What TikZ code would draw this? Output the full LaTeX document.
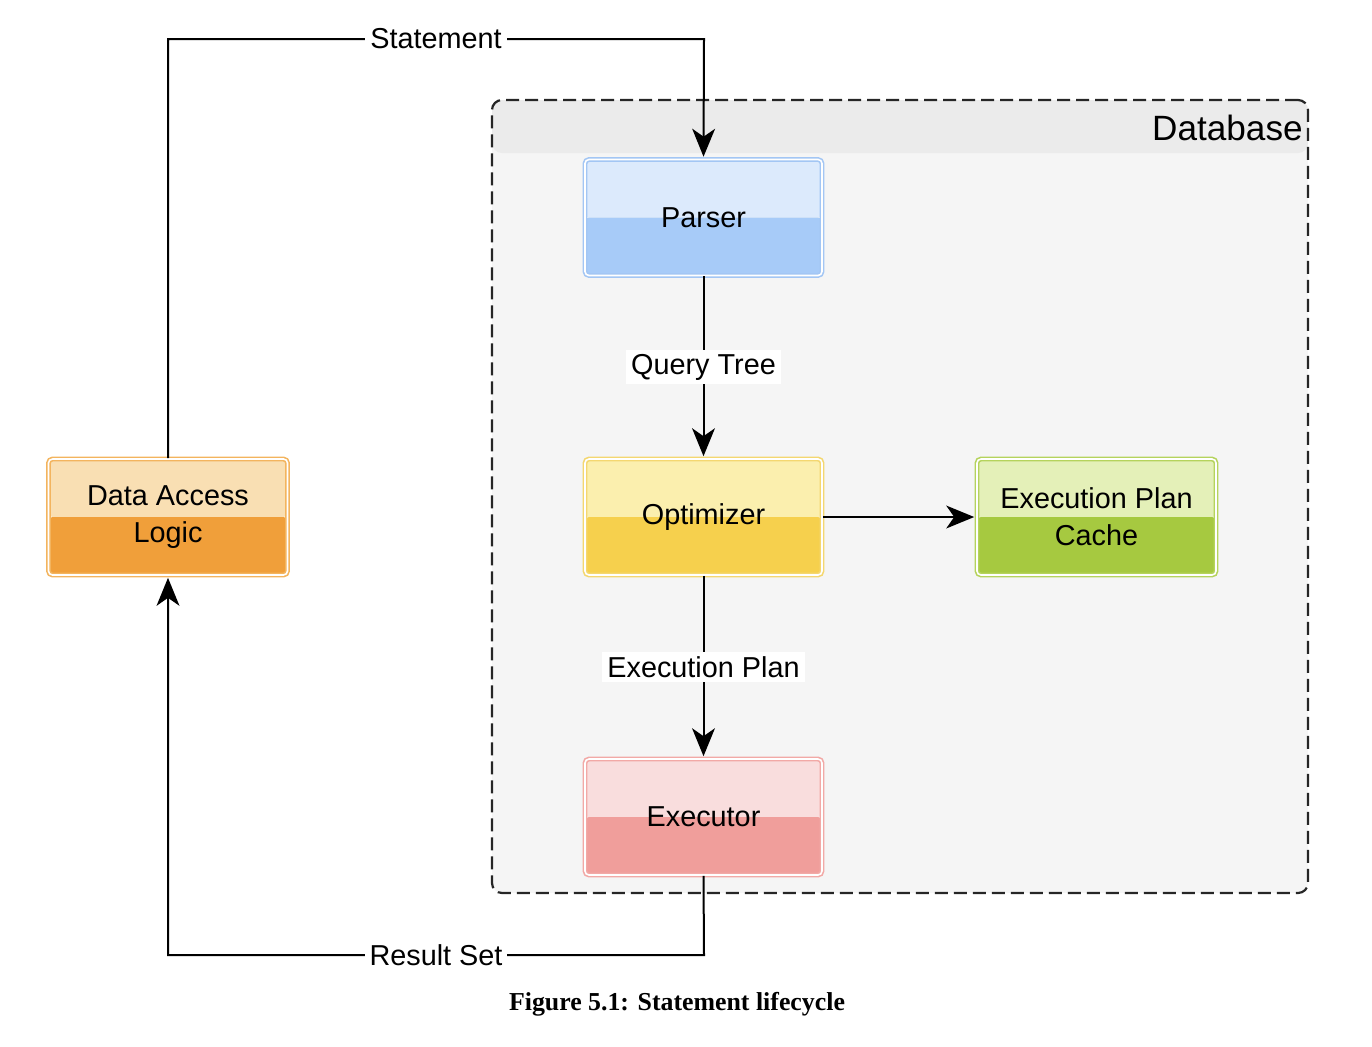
\documentclass[tikz,border=0pt]{standalone}
\usepackage{fontspec}
\setmainfont{Liberation Sans}
\newfontfamily\capfont{Liberation Serif}
\usetikzlibrary{arrows.meta}
\newdimen\pxu \pxu=0.02cm
\definecolor{dbbody}{HTML}{F5F5F5}
\definecolor{dbhead}{HTML}{EBEBEB}
\definecolor{blueTop}{HTML}{DCEAFC}
\definecolor{blueBot}{HTML}{A7CBF8}
\definecolor{blueLine}{HTML}{A3C6F4}
\definecolor{yelTop}{HTML}{FBEFAE}
\definecolor{yelBot}{HTML}{F6D04D}
\definecolor{yelLine}{HTML}{F4D770}
\definecolor{redTop}{HTML}{F9DDDD}
\definecolor{redBot}{HTML}{F09E9B}
\definecolor{redLine}{HTML}{F2A9A6}
\definecolor{orTop}{HTML}{F9DFB3}
\definecolor{orBot}{HTML}{F09F3A}
\definecolor{orLine}{HTML}{F3B45E}
\definecolor{grTop}{HTML}{E4F0B8}
\definecolor{grBot}{HTML}{A6C940}
\definecolor{grLine}{HTML}{B5D35C}
\definecolor{dashcol}{HTML}{262626}
\tikzset{
  glass/.style n args={3}{rectangle, rounded corners=4\pxu,
    minimum width=237\pxu, minimum height=116\pxu, inner sep=0pt,
    align=center, font=\fontsize{16.4}{21}\selectfont,
    draw=#3, line width=1.6\pxu, double=white, double distance=1.6\pxu,
    path picture={
      \fill[#1] (path picture bounding box.north west) rectangle (path picture bounding box.east);
      \fill[#2] (path picture bounding box.west) rectangle (path picture bounding box.south east);
    }},
  conn/.style={line width=2\pxu, draw=black},
  arr/.style={conn, shorten >=2\pxu, -{Stealth[length=15.9pt, width=13pt, inset=4.5pt]}},
  lbl/.style={fill=white, inner xsep=5\pxu, inner ysep=4\pxu, font=\fontsize{16.4}{19.5}\selectfont},
  container/.style={rectangle, rounded corners=10\pxu, draw=dashcol, line width=2.2\pxu,
    dash pattern=on 13\pxu off 6\pxu, fill=dbbody,
    minimum width=816\pxu, minimum height=793\pxu, inner sep=0pt,
    path picture={
      \fill[dbhead] (path picture bounding box.north west) rectangle ([yshift=-53\pxu]path picture bounding box.north east);
    }}
}
\begin{document}
\begin{tikzpicture}[x=0.02cm, y=-0.02cm]
\useasboundingbox (0,0) rectangle (1372,1046);
\node[container] (db) at (900,496.5) {};
\node[anchor=east, font=\fontsize{20}{24}\selectfont, inner sep=0pt] (dblabel) at (1303,128) {Database};
\node[glass={blueTop}{blueBot}{blueLine}] (parser) at (703.5,217.5) {Parser};
\node[glass={yelTop}{yelBot}{yelLine}] (opt) at (703.5,517) {Optimizer};
\node[glass={redTop}{redBot}{redLine}] (exec) at (703.5,817) {Executor};
\node[glass={orTop}{orBot}{orLine}, minimum width=239\pxu] (dal) at (168,517) {Data Access\\Logic};
\node[glass={grTop}{grBot}{grLine}, minimum width=239\pxu] (cache) at (1096.5,517) {Execution Plan\\Cache};
% connectors
\coordinate (tl) at (168,39);
\coordinate (tr) at (704,39);
\draw[arr] (dal.north) -- (tl) -- node[lbl] (stmt) {Statement} (tr) -- (parser.north);
\draw[arr] (parser.south) -- node[lbl] (qt) {Query Tree} (opt.north);
\draw[arr] (opt.east) -- (cache.west);
\draw[arr] (opt.south) -- node[lbl] (ep) {Execution Plan} (exec.north);
\coordinate (br) at (704,955);
\coordinate (bl) at (168,955);
\draw[arr] (exec.south) -- (br) -- node[lbl] (rs) {Result Set} (bl) -- (dal.south);
\node[font=\capfont\bfseries\fontsize{14.7}{17}\selectfont] (caption) at (677,1004) {Figure 5.1: Statement lifecycle};
\end{tikzpicture}
\end{document}
